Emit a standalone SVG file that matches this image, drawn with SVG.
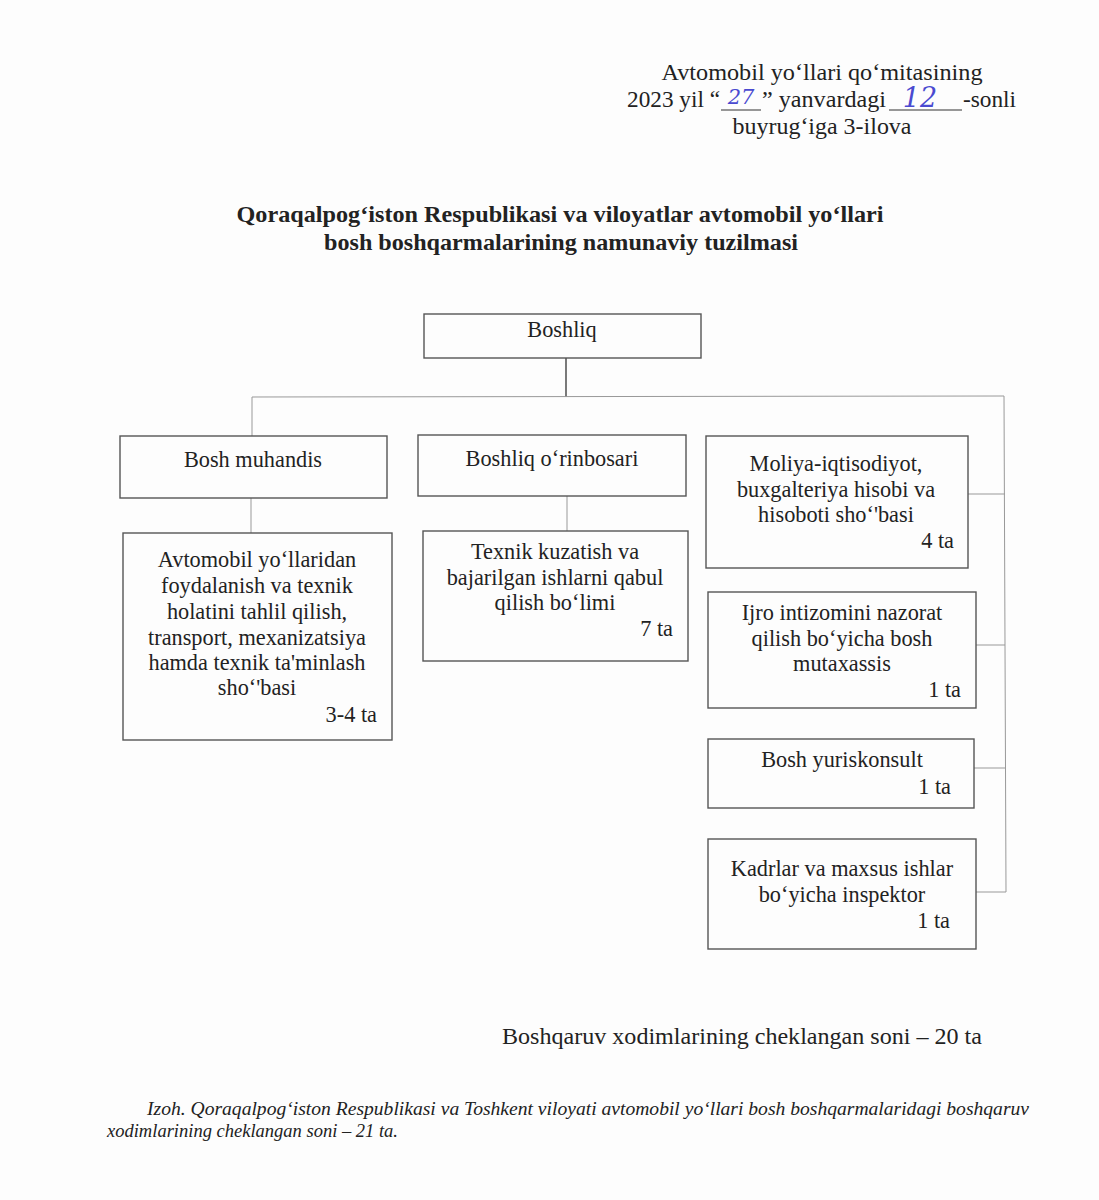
<svg xmlns="http://www.w3.org/2000/svg" width="1099" height="1200" viewBox="0 0 1099 1200">
<style>
text{font-family:"Liberation Serif","Times New Roman",serif;fill:#222;}
.t{font-size:22.3px;}
.h{font-size:23.5px;}
.c{text-anchor:middle;}
.r{text-anchor:end;}
.box{fill:none;stroke:#555;stroke-width:1.4;}
.ln{stroke:#999;stroke-width:1;fill:none;}
.ul{stroke:#333;stroke-width:1.2;}
.hw{font-family:"DejaVu Serif",serif;font-style:italic;fill:#4a4ad0;}
</style>
<rect width="1099" height="1200" fill="#fdfdfd"/>
<g id="header">
<text x="822" y="80" class="h c" textLength="321" lengthAdjust="spacingAndGlyphs">Avtomobil yo‘llari qo‘mitasining</text>
<text x="627" y="107" class="h" textLength="93" lengthAdjust="spacingAndGlyphs">2023 yil “</text>
<line class="ul" x1="721" y1="110" x2="761" y2="110"/>
<text x="762" y="107" class="h" textLength="124" lengthAdjust="spacingAndGlyphs">” yanvardagi</text>
<line class="ul" x1="889" y1="110" x2="962" y2="110"/>
<text x="963" y="107" class="h" textLength="53" lengthAdjust="spacingAndGlyphs">-sonli</text>
<text x="822" y="134" class="h c" textLength="179" lengthAdjust="spacingAndGlyphs">buyrug‘iga 3-ilova</text>
<text x="741" y="104" class="hw c" font-size="21">27</text>
<text x="920" y="107" class="hw c" font-size="27">12</text>
</g>
<g id="title">
<text x="560" y="222" class="c" font-size="22.5" font-weight="bold" textLength="647" lengthAdjust="spacingAndGlyphs">Qoraqalpog‘iston Respublikasi va viloyatlar avtomobil yo‘llari</text>
<text x="561" y="250" class="c" font-size="22.5" font-weight="bold" textLength="474" lengthAdjust="spacingAndGlyphs">bosh boshqarmalarining namunaviy tuzilmasi</text>
</g>
<g id="connectors">
<line x1="566" y1="358" x2="566" y2="397" stroke="#333" stroke-width="1.3"/>
<line class="ln" x1="252" y1="397" x2="1004" y2="396"/>
<line class="ln" x1="252" y1="397" x2="252" y2="436"/>
<line class="ln" x1="1004" y1="396" x2="1006" y2="892"/>
<line class="ln" x1="968" y1="494" x2="1005" y2="494"/>
<line class="ln" x1="976" y1="645" x2="1005" y2="645"/>
<line class="ln" x1="974" y1="768" x2="1006" y2="768"/>
<line class="ln" x1="976" y1="892" x2="1006" y2="892"/>
<line class="ln" x1="251" y1="498" x2="251" y2="533"/>
<line class="ln" x1="567" y1="496" x2="567" y2="531"/>
</g>
<g id="boshliq">
<rect class="box" x="424" y="314" width="277" height="44"/>
<text x="562" y="337" class="t c">Boshliq</text>
</g>
<g id="bosh-muhandis">
<rect class="box" x="120" y="436" width="267" height="62"/>
<text x="253" y="467" class="t c">Bosh muhandis</text>
</g>
<g id="boshliq-orinbosari">
<rect class="box" x="418" y="435" width="268" height="61"/>
<text x="552" y="466" class="t c">Boshliq o‘rinbosari</text>
</g>
<g id="moliya">
<rect class="box" x="706" y="436" width="262" height="132"/>
<text x="836" y="471" class="t c">Moliya-iqtisodiyot,</text>
<text x="836" y="497" class="t c">buxgalteriya hisobi va</text>
<text x="836" y="522" class="t c">hisoboti sho‘'basi</text>
<text x="954" y="548" class="t r">4 ta</text>
</g>
<g id="avtomobil">
<rect class="box" x="123" y="533" width="269" height="207"/>
<text x="257" y="567" class="t c">Avtomobil yo‘llaridan</text>
<text x="257" y="593" class="t c">foydalanish va texnik</text>
<text x="257" y="619" class="t c">holatini tahlil qilish,</text>
<text x="257" y="645" class="t c">transport, mexanizatsiya</text>
<text x="257" y="670" class="t c">hamda texnik ta'minlash</text>
<text x="257" y="695" class="t c">sho‘'basi</text>
<text x="377" y="722" class="t r">3-4 ta</text>
</g>
<g id="texnik">
<rect class="box" x="423" y="531" width="265" height="130"/>
<text x="555" y="559" class="t c">Texnik kuzatish va</text>
<text x="555" y="585" class="t c">bajarilgan ishlarni qabul</text>
<text x="555" y="610" class="t c">qilish bo‘limi</text>
<text x="673" y="636" class="t r">7 ta</text>
</g>
<g id="ijro">
<rect class="box" x="708" y="592" width="268" height="116"/>
<text x="842" y="620" class="t c">Ijro intizomini nazorat</text>
<text x="842" y="646" class="t c">qilish bo‘yicha bosh</text>
<text x="842" y="671" class="t c">mutaxassis</text>
<text x="961" y="697" class="t r">1 ta</text>
</g>
<g id="yuriskonsult">
<rect class="box" x="708" y="739" width="266" height="69"/>
<text x="842" y="767" class="t c">Bosh yuriskonsult</text>
<text x="951" y="794" class="t r">1 ta</text>
</g>
<g id="kadrlar">
<rect class="box" x="708" y="839" width="268" height="110"/>
<text x="842" y="876" class="t c">Kadrlar va maxsus ishlar</text>
<text x="842" y="902" class="t c">bo‘yicha inspektor</text>
<text x="950" y="928" class="t r">1 ta</text>
</g>
<g id="footer">
<text x="502" y="1044" font-size="23" textLength="480" lengthAdjust="spacingAndGlyphs">Boshqaruv xodimlarining cheklangan soni – 20 ta</text>
<text x="147" y="1115" font-size="18" font-style="italic" textLength="882" lengthAdjust="spacingAndGlyphs">Izoh. Qoraqalpog‘iston Respublikasi va Toshkent viloyati avtomobil yo‘llari bosh boshqarmalaridagi boshqaruv</text>
<text x="107" y="1137" font-size="18" font-style="italic" textLength="291" lengthAdjust="spacingAndGlyphs">xodimlarining cheklangan soni – 21 ta.</text>
</g>
</svg>
